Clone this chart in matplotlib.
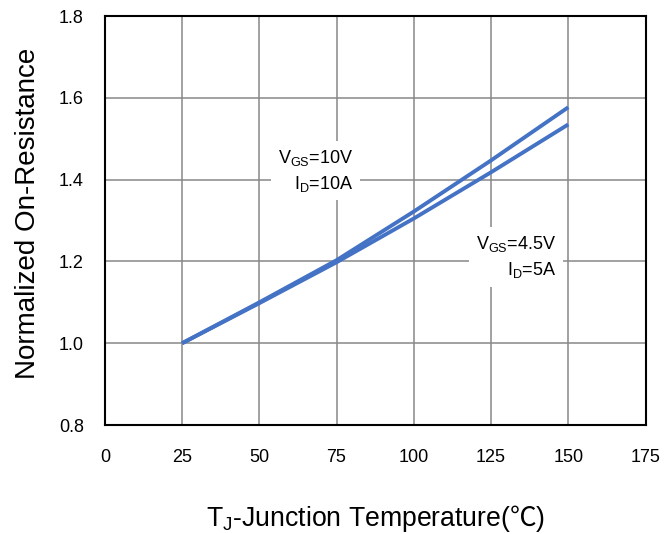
import matplotlib
matplotlib.use("Agg")
import matplotlib.pyplot as plt

plt.rcParams['font.family'] = ['Liberation Sans', 'Noto Sans CJK SC', 'DejaVu Sans']
plt.rcParams['mathtext.fontset'] = 'custom'
plt.rcParams['mathtext.rm'] = 'Liberation Sans'
plt.rcParams['mathtext.it'] = 'Liberation Sans'
plt.rcParams['mathtext.sf'] = 'Noto Sans CJK SC'

# Tj (deg C) vs normalized Rds(on)
temp = [25, 50, 75, 100, 125, 150]
r_10v = [1.0, 1.10, 1.203, 1.322, 1.447, 1.577]
r_45v = [1.0, 1.098, 1.198, 1.305, 1.418, 1.535]

xticks = [0, 25, 50, 75, 100, 125, 150, 175]
yticks = [0.8, 1.0, 1.2, 1.4, 1.6, 1.8]

blue = '#4472C4'

fig = plt.figure(figsize=(6.72, 5.34), dpi=100)
ax = fig.add_axes([0.156, 0.204, 0.8046, 0.766])

ax.plot(temp, r_10v, color=blue, lw=2.8, solid_capstyle='butt', zorder=3)
ax.plot(temp, r_45v, color=blue, lw=2.8, solid_capstyle='butt', zorder=3)

ax.set_xlim(0, 175)
ax.set_ylim(0.8, 1.8)
ax.set_xticks(xticks)
ax.set_yticks(yticks)
ax.set_yticklabels(['%.1f' % v for v in yticks])
ax.grid(True, color='#888888', lw=1.1)
ax.set_axisbelow(True)
ax.tick_params(length=0, labelsize=13)
ax.tick_params(axis='x', pad=17)
ax.tick_params(axis='y', pad=15)
for s in ax.spines.values():
    s.set_color('black')
    s.set_linewidth(1.5)

ax.set_ylabel('Normalized On-Resistance', fontsize=20)
ax.yaxis.set_label_coords(-0.118, 0.517)
ax.set_xlabel(r'T$_\mathregular{J}$-Junction Temperature($\mathsf{℃}$)', fontsize=19.2, labelpad=27)

box = dict(facecolor='white', edgecolor='none', pad=5)
ax.text(80.3, 1.422, 'V$_\\mathregular{GS}$=10V\nI$_\\mathregular{D}$=10A',
        ha='right', va='center', multialignment='right', fontsize=13,
        bbox=box, linespacing=1.4, zorder=4)
ax.text(146.0, 1.21, 'V$_\\mathregular{GS}$=4.5V\nI$_\\mathregular{D}$=5A',
        ha='right', va='center', multialignment='right', fontsize=13,
        bbox=box, linespacing=1.4, zorder=4)

fig.savefig('out.png', dpi=100)
